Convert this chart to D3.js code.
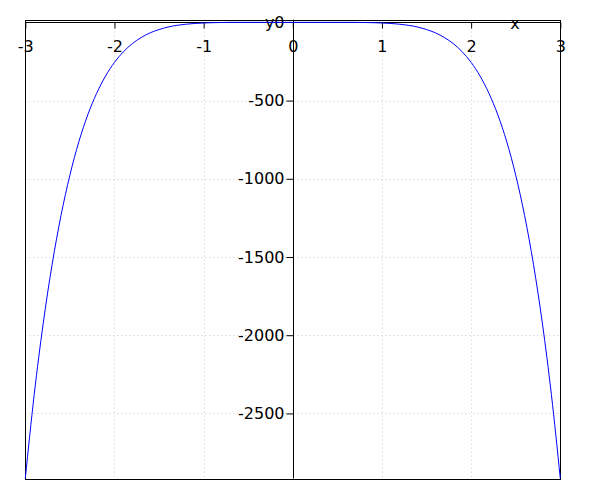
<!DOCTYPE html>
<html>
<head>
<meta charset="utf-8">
<script src="https://cdn.jsdelivr.net/npm/d3@7/dist/d3.min.js"></script>
<style>
  html, body { margin: 0; padding: 0; background: #fff; }
  svg { display: block; }
  text { font-family: "DejaVu Sans", sans-serif; }
</style>
</head>
<body>
<svg id="chart" width="600" height="500"></svg>
<script>
// ---- data ----
const xValues = [-3.0,-2.9,-2.8,-2.7,-2.6,-2.5,-2.4,-2.3,-2.2,-2.1,-2.0,-1.9,-1.8,-1.7,-1.6,-1.5,-1.4,-1.3,-1.2,-1.1,-1.0,-0.9,-0.8,-0.7,-0.6,-0.5,-0.4,-0.3,-0.2,-0.1,0.0,
                 0.1,0.2,0.3,0.4,0.5,0.6,0.7,0.8,0.9,1.0,1.1,1.2,1.3,1.4,1.5,1.6,1.7,1.8,1.9,2.0,2.1,2.2,2.3,2.4,2.5,2.6,2.7,2.8,2.9,3.0];
const yValues = [-2916,-2379,-1928,-1550,-1236,-977,-764,-592,-454,-343,-256,-188,-136,-97,-67,-46,-30,-19,-12,-7,-4,-2,-1,0,0,0,0,0,0,0,0,
                 0,0,0,0,0,0,0,-1,-2,-4,-7,-12,-19,-30,-46,-67,-97,-136,-188,-256,-343,-454,-592,-764,-977,-1236,-1550,-1928,-2379,-2916];
const xTicks = [-3,-2,-1,0,1,2,3];
const yTicks = [-2500,-2000,-1500,-1000,-500,0];
const xLabel = "x";
const yLabel = "y";

// ---- layout ----
const pLeft = 25.3, pRight = 560.3, pTop = 19.7, pBottom = 478.5;
const yTopPad = 17;
const fontSize = 16;

const svg = d3.select("#chart");
const x = d3.scaleLinear().domain([d3.min(xValues), d3.max(xValues)]).range([pLeft, pRight]);
const y = d3.scaleLinear().domain([d3.min(yValues), d3.max(yValues) + yTopPad]).range([pBottom, pTop]);

const x0 = x(0), y0 = y(0);

// grid
const grid = svg.append("g").attr("stroke", "#cccccc").attr("stroke-width", 1).attr("stroke-dasharray", "1,3");
grid.selectAll("line.v").data(xTicks.filter(d => d !== 0 && d !== -3 && d !== 3)).enter().append("line")
  .attr("x1", d => Math.round(x(d)) + 0.5).attr("x2", d => Math.round(x(d)) + 0.5)
  .attr("y1", pTop).attr("y2", pBottom);
grid.selectAll("line.h").data(yTicks.filter(d => d !== 0)).enter().append("line")
  .attr("x1", pLeft).attr("x2", pRight)
  .attr("y1", d => Math.round(y(d)) + 0.5).attr("y2", d => Math.round(y(d)) + 0.5);

// frame
svg.append("rect").attr("x", Math.round(pLeft) + 0.5).attr("y", Math.round(pTop) + 0.5)
  .attr("width", Math.round(pRight) - Math.round(pLeft)).attr("height", Math.round(pBottom) - Math.round(pTop))
  .attr("fill", "none").attr("stroke", "#000").attr("stroke-width", 1);

// x axis through y = 0
const xAxis = d3.axisBottom(x).tickValues(xTicks).tickSize(6).tickPadding(12).tickFormat(d3.format("d"));
const gx = svg.append("g").attr("transform", `translate(0,${Math.round(y0) + 0.5})`).call(xAxis);
gx.select(".domain").remove();
gx.selectAll("line").attr("stroke", "#000");
gx.selectAll("text").attr("font-size", fontSize).attr("fill", "#000").attr("font-family", "DejaVu Sans")
  .text(d => String(d));
svg.append("line").attr("x1", pLeft).attr("x2", pRight)
  .attr("y1", Math.round(y0) + 0.5).attr("y2", Math.round(y0) + 0.5).attr("stroke", "#000");

// y axis through x = 0
const yAxis = d3.axisLeft(y).tickValues(yTicks).tickSize(7).tickPadding(2).tickFormat(d3.format("d"));
const gy = svg.append("g").attr("transform", `translate(${Math.round(x0) + 0.5},0)`).call(yAxis);
gy.select(".domain").remove();
gy.selectAll("line").attr("stroke", "#000");
gy.selectAll(".tick").filter(d => d === 0).select("line").remove();
gy.selectAll("text").attr("font-size", fontSize).attr("fill", "#000").attr("font-family", "DejaVu Sans")
  .text(d => String(d));
svg.append("line").attr("x1", Math.round(x0) + 0.5).attr("x2", Math.round(x0) + 0.5)
  .attr("y1", pTop).attr("y2", pBottom).attr("stroke", "#000");

// axis labels
svg.append("text").attr("x", 515).attr("y", 28.5).attr("text-anchor", "middle")
  .attr("font-size", fontSize).attr("fill", "#000").text(xLabel);
svg.append("text").attr("x", 274.5).attr("y", 27.5).attr("text-anchor", "end")
  .attr("font-size", fontSize).attr("fill", "#000").text(yLabel);

// curve
const line = d3.line().x((d, i) => x(xValues[i])).y(d => y(d)).curve(d3.curveMonotoneX);
svg.append("path").datum(yValues).attr("d", line)
  .attr("fill", "none").attr("stroke", "#0000ff").attr("stroke-width", 1);
</script>
</body>
</html>
